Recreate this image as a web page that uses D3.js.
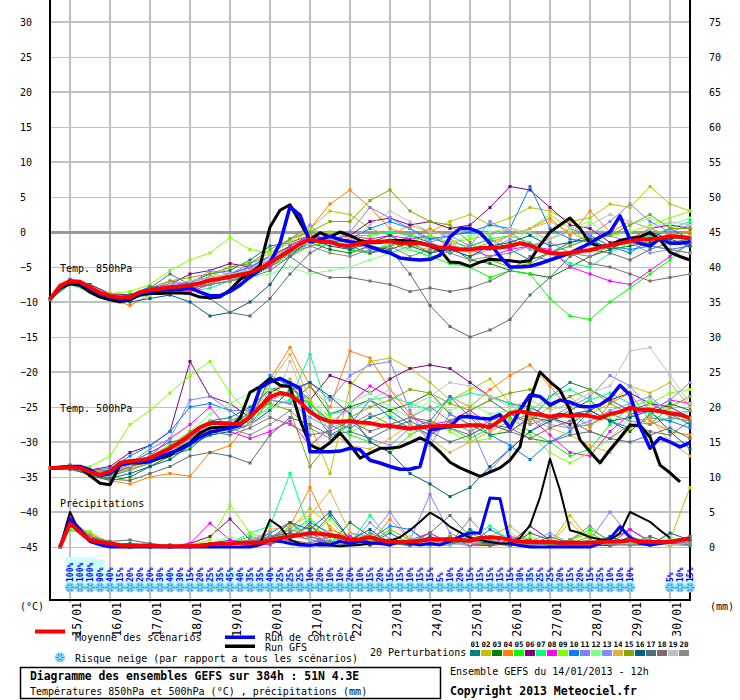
<!DOCTYPE html>
<html lang="fr">
<head>
<meta charset="utf-8">
<title>Diagramme des ensembles GEFS</title>
<script src="https://cdn.jsdelivr.net/npm/d3@7"></script>
<style>
  body { margin: 0; background: #fff; }
  text { font-family: "DejaVu Sans Mono", monospace; }
</style>
</head>
<body>
<svg id="chart" width="740" height="700"></svg>
<script>
// ---- data (6h steps, step 0 = 14/01 12h, step 64 = 384h) ----
var dates = ["15/01","16/01","17/01","18/01","19/01","20/01","21/01","22/01",
             "23/01","24/01","25/01","26/01","27/01","28/01","29/01","30/01"];
var leftTicks = [-45,-40,-35,-30,-25,-20,-15,-10,-5,0,5,10,15,20,25,30];
var rightTicks = [0,5,10,15,20,25,30,35,40,45,50,55,60,65,70,75];

var t850Mean = [-9.6,-7.7,-7.0,-7.1,-7.9,-8.7,-9.1,-9.4,-9.3,-8.6,
  -8.3,-8.1,-7.9,-7.8,-7.6,-7.3,-6.9,-6.7,-6.4,-6.1,
  -5.8,-5.2,-4.4,-3.5,-2.6,-1.7,-1.0,-1.4,-1.4,-1.9,
  -2.0,-1.6,-1.4,-1.4,-1.3,-1.6,-1.6,-1.6,-1.9,-2.3,
  -2.3,-2.5,-2.5,-2.3,-2.3,-2.2,-2.0,-1.6,-1.9,-2.6,
  -3.0,-3.1,-3.0,-2.7,-2.6,-2.2,-1.9,-1.6,-1.3,-1.1,
  -1.0,-0.9,-0.6,-0.7,-0.9];
var t850Ctrl = [-9.6,-7.8,-7.1,-7.3,-8.1,-8.9,-9.3,-9.6,-9.5,-8.8,
  -8.5,-8.3,-8.2,-8.2,-8.0,-8.6,-9.1,-9.1,-8.5,-7.6,
  -6.4,-5.4,-4.4,-1.6,3.6,2.4,-1.4,-1.1,-0.6,-1.1,
  -1.4,-1.6,-2.1,-2.6,-3.0,-3.7,-3.9,-4.0,-3.9,-3.3,
  -0.7,0.5,0.5,-0.1,-1.6,-3.5,-5.0,-5.0,-4.9,-4.5,
  -4.0,-3.5,-3.0,-2.3,-1.6,-0.7,0.0,2.3,-1.1,-1.6,
  -2.0,-0.9,-1.6,-1.6,-1.4];
var t850Gfs = [-9.6,-8.0,-7.4,-7.6,-8.6,-9.3,-9.7,-10.0,-9.7,-9.0,
  -8.8,-8.8,-8.7,-8.7,-8.8,-9.3,-9.4,-9.3,-8.3,-6.8,
  -5.9,-4.8,0.7,3.1,3.9,1.4,-1.1,-0.1,-0.7,0.0,
  -0.5,-1.2,-1.5,-1.5,-1.2,-1.2,-1.3,-1.5,-2.0,-2.6,
  -4.3,-4.4,-4.9,-4.3,-3.9,-4.0,-4.1,-4.3,-4.1,-1.9,
  0.0,1.0,2.0,0.5,-1.6,-2.1,-1.9,-1.2,-0.9,-0.7,
  -0.1,-1.1,-2.9,-3.5,-4.0];

var t500Mean = [-33.7,-33.7,-33.6,-33.7,-34.3,-34.7,-34.2,-33.0,-32.7,-32.6,
  -32.3,-31.6,-30.9,-30.0,-29.0,-27.9,-27.3,-27.3,-27.4,-27.4,
  -26.4,-25.0,-23.6,-23.0,-23.3,-24.3,-25.7,-26.6,-27.1,-27.1,
  -27.0,-27.2,-27.3,-27.6,-27.7,-27.9,-28.1,-27.9,-27.8,-27.7,
  -27.7,-27.7,-27.6,-27.6,-27.9,-26.9,-25.9,-25.6,-25.9,-26.1,
  -26.4,-26.1,-26.3,-26.1,-26.3,-26.6,-26.0,-25.7,-25.1,-25.4,
  -25.4,-25.6,-25.9,-26.1,-26.6];
var t500Ctrl = [-33.7,-33.6,-33.5,-33.5,-34.0,-34.8,-34.5,-33.3,-32.9,-32.9,
  -32.8,-32.1,-31.6,-31.1,-30.2,-29.3,-28.6,-28.3,-28.0,-27.6,
  -26.4,-22.3,-21.4,-20.9,-21.6,-22.3,-31.4,-31.4,-31.4,-31.3,
  -30.9,-31.1,-32.6,-33.0,-33.5,-33.9,-33.9,-33.5,-28.3,-28.0,
  -27.8,-26.4,-26.4,-26.6,-26.7,-26.1,-28.0,-25.4,-23.3,-23.5,
  -24.7,-24.0,-24.3,-24.9,-25.0,-24.7,-23.7,-21.9,-23.3,-27.8,
  -30.9,-29.4,-30.0,-30.7,-30.1];
var t500Gfs = [-33.7,-33.7,-33.5,-33.7,-34.8,-35.9,-36.1,-33.3,-33.0,-33.0,
  -32.8,-32.3,-31.9,-30.9,-30.1,-28.7,-28.0,-27.9,-27.9,-26.6,
  -22.9,-22.1,-20.9,-21.9,-22.1,-26.9,-30.4,-31.1,-30.1,-28.7,
  -30.4,-32.3,-31.6,-30.9,-30.9,-30.7,-30.1,-29.4,-30.1,-31.4,
  -32.9,-33.7,-34.3,-34.9,-34.3,-33.7,-32.6,-30.7,-24.0,-20.0,
  -21.4,-22.6,-25.4,-29.7,-31.4,-33.0,-31.1,-29.4,-27.6,-27.6,
  -29.3,-33.3,-34.4,-35.7,null];

var rainMean = [null,0.0,3.4,2.1,1.0,0.7,0.5,0.3,0.2,0.2,
  0.2,0.1,0.1,0.1,0.1,0.2,0.4,0.5,0.5,0.6,
  0.6,0.6,1.0,1.3,1.5,1.7,2.0,1.9,1.7,1.5,
  1.0,1.1,1.4,1.0,0.8,0.7,0.8,0.9,1.1,1.1,
  1.1,1.0,0.9,1.3,1.4,1.3,1.0,0.8,0.7,0.7,
  0.7,0.6,0.6,0.6,0.6,0.7,0.8,0.8,1.0,0.8,
  0.7,0.7,0.7,1.0,1.1];
var rainCtrl = [null,0,4.0,2.5,0.8,0.3,0,0,0,0,
  0,0,0,0,0,0,0,0,0,0,
  0,0.3,1.0,0.8,0.5,0.3,0.2,0.5,0.3,0.8,
  0.5,0.8,0.6,0.5,0.3,0.8,0.5,0.3,0.5,0.3,
  0.8,1.5,2.0,2.0,7.0,6.9,0.5,0.2,0,0,
  0,0,0,0,0,0.5,1.2,2.9,1.4,0.5,
  0.3,0.5,0.8,1.0,1.2];
var rainGfs = [null,0,5.0,2.0,0.7,0.3,0.1,0,0,0,
  0,0,0,0,0,0,0,0,0,0,
  0,0.5,3.9,2.9,1.0,0.5,0.3,0.2,0.2,0.1,
  0.2,0.3,0.5,0.7,0.9,1.4,2.4,3.6,4.9,4.1,
  2.9,2.1,1.3,1.0,0.7,0.5,0.5,1.3,3.1,7.1,
  12.6,8.1,2.4,2.0,1.4,1.1,1.0,2.0,5.0,4.3,
  3.6,2.4,1.3,null,null];

// snow risk (% of members), per 6h step
var snowPct = [null,null,100,100,100,90,40,15,20,20,
  20,30,40,30,15,20,25,35,45,40,
  35,35,40,25,25,25,10,20,10,10,
  20,10,15,20,15,15,10,15,15,5,
  10,20,15,15,15,15,15,30,35,25,
  25,20,15,20,15,25,10,10,10,null,
  null,null,5,10,15];

// 20 perturbations, 12h steps (0,2,4,...,64)
var t850Pert = [
  [-9.6,-7.2,-7.8,-9.3,-9.8,-8.0,-7.5,-7.2,-6.0,-5.5,-4.0,-2.0,-1.5,-0.5,-1.0,-2.5,-3.0,-2.0,-0.5,-1.5,-3.0,-2.0,-1.0,-2.5,-4.0,-3.0,-1.5,-0.5,-2.0,-3.0,-1.0,0.5,-1.0],
  [-9.6,-6.8,-7.5,-9.0,-9.0,-8.5,-8.0,-7.0,-6.5,-5.0,-4.5,-3.0,-1.0,0.5,3.0,2.5,0.5,-0.5,1.0,0.0,1.5,2.5,1.0,2.0,3.5,3.0,1.5,2.0,4.0,3.5,6.5,4.0,3.0],
  [-9.6,-7.3,-8.2,-9.5,-9.0,-8.0,-8.5,-8.0,-7.5,-7.0,-6.0,-5.0,-3.0,-1.5,-2.5,-3.0,-2.0,-2.5,-1.5,-3.0,-2.0,-4.0,-4.5,-5.5,-6.0,-6.5,-5.0,-3.5,-2.5,-2.0,-1.5,-1.0,-0.5],
  [-9.6,-7.0,-8.0,-9.5,-10.5,-9.0,-8.0,-8.5,-7.0,-6.5,-5.5,-4.0,-2.0,0.5,4.0,6.0,3.5,0.5,-0.5,0.5,-1.0,-2.5,-1.5,-0.5,0.5,2.0,-0.5,3.0,0.0,1.5,0.5,-0.5,0.0],
  [-9.6,-7.5,-8.5,-9.0,-9.5,-8.5,-8.0,-7.5,-7.0,-6.0,-6.5,-5.0,-3.5,-2.0,-1.5,-2.5,-3.0,-1.5,-2.5,-3.5,-4.5,-5.0,-6.5,-5.5,-6.0,-9.5,-12.0,-12.5,-10.0,-8.0,-6.0,-4.0,-1.5],
  [-9.6,-6.8,-7.5,-8.8,-9.0,-8.0,-7.5,-6.0,-5.5,-4.5,-5.0,-3.5,-2.0,-0.5,-1.0,-0.5,1.5,2.0,1.0,1.5,0.5,1.0,3.5,6.5,6.0,3.5,1.0,0.5,-1.5,-1.0,0.5,1.0,0.5],
  [-9.6,-7.2,-7.8,-9.0,-9.5,-9.0,-8.5,-8.5,-8.0,-7.0,-5.5,-4.5,-2.0,-0.5,0.0,-0.5,-0.5,0.0,-0.5,-1.0,-1.5,-2.0,-1.0,-0.5,-1.5,-3.0,-4.5,-5.0,-3.0,-1.5,-0.5,0.5,1.5],
  [-9.6,-7.0,-7.7,-9.4,-9.5,-8.0,-7.5,-8.5,-7.5,-6.0,-5.0,-5.0,-2.0,-0.5,-1.0,-0.5,-1.0,-0.5,-1.0,-0.5,-2.0,-2.5,-3.5,-2.5,-2.0,-2.5,-5.0,-6.0,-7.0,-7.5,-5.5,-3.5,-1.5],
  [-9.6,-7.3,-8.1,-8.8,-8.5,-7.5,-5.5,-4.0,-3.0,-0.8,-2.5,-3.0,-1.5,0.5,-1.0,-2.0,-0.5,-2.0,-1.5,-0.5,-1.5,-1.0,-0.5,-2.0,0.5,2.5,0.5,-1.5,-0.5,0.0,1.0,2.0,3.0],
  [-9.6,-7.1,-7.9,-9.2,-9.0,-7.8,-8.0,-7.0,-6.5,-6.0,-5.0,-3.5,-2.5,-0.5,-1.5,-1.0,0.5,1.5,0.5,-1.0,-0.5,0.0,1.0,0.5,6.5,0.5,-1.0,-1.5,-2.0,-2.5,-2.0,-2.5,-2.0],
  [-9.6,-6.9,-8.0,-9.0,-9.5,-8.5,-7.0,-7.5,-5.5,-6.0,-4.5,-3.5,-1.0,1.0,-1.5,0.0,3.5,2.0,0.5,-1.5,-0.5,-2.0,1.5,0.0,-2.0,-1.0,0.5,-0.5,1.5,4.0,1.5,0.0,1.0],
  [-9.6,-7.4,-8.3,-9.6,-9.0,-9.0,-8.0,-7.5,-7.5,-7.0,-6.5,-6.0,-5.0,-6.0,-5.5,-5.0,-4.0,-3.0,-2.5,-3.0,-1.5,-0.5,0.0,0.5,-0.5,-1.0,0.5,1.5,-0.5,1.0,2.0,1.0,2.0],
  [-9.6,-7.0,-7.8,-9.0,-9.2,-8.2,-7.8,-7.2,-6.5,-6.8,-5.0,-4.0,-3.5,-1.5,-1.0,-1.5,-2.5,-3.0,-2.0,-1.5,-2.5,-3.5,-2.5,-1.0,-2.5,-3.0,-2.0,-1.0,-0.5,-1.5,-3.0,-2.5,-3.0],
  [-9.6,-7.1,-7.9,-9.0,-9.3,-8.6,-7.8,-7.8,-6.5,-6.2,-5.5,-4.5,-2.5,-0.5,0.0,-1.0,-2.0,-1.0,-2.0,-2.5,-1.5,-3.0,-2.0,-0.5,0.5,1.5,0.0,-1.5,-2.5,-1.0,0.5,-0.5,-0.5],
  [-9.6,-6.9,-7.7,-9.2,-9.5,-8.0,-7.0,-6.5,-6.0,-5.0,-4.5,-2.5,-1.0,0.0,1.5,1.5,4.5,6.0,3.0,1.5,1.0,-1.5,-4.0,-5.0,-4.5,-3.0,-2.0,-1.0,-0.5,1.0,2.5,0.5,0.5],
  [-9.6,-7.4,-8.0,-9.2,-10.0,-9.5,-9.0,-10.0,-12.0,-11.5,-10.0,-7.5,-3.5,-1.0,-2.0,-2.5,-1.5,-0.5,-2.0,-3.0,-2.5,-3.5,-2.0,-1.5,-0.5,-2.0,-1.5,-1.0,-2.5,-1.0,0.0,-1.0,-2.0],
  [-9.6,-7.2,-8.0,-9.5,-9.0,-8.0,-6.0,-7.5,-9.5,-11.5,-12.0,-9.5,-6.0,-3.0,-1.5,-2.0,-3.0,-2.5,-6.0,-10.5,-13.5,-15.0,-14.0,-12.5,-9.0,-6.5,-3.5,-2.5,-3.0,-4.0,-2.5,-1.5,-1.0],
  [-9.6,-7.3,-8.3,-9.3,-9.2,-8.5,-8.5,-8.0,-7.5,-7.0,-6.5,-5.5,-3.5,-5.5,-6.5,-6.5,-7.0,-7.5,-8.5,-8.0,-8.5,-8.0,-7.0,-5.5,-3.5,-4.0,-3.0,-4.5,-5.0,-6.0,-7.0,-6.5,-6.0],
  [-9.6,-7.0,-7.9,-9.0,-9.3,-8.3,-7.5,-7.0,-6.5,-6.0,-5.5,-3.5,-2.5,-1.5,-1.0,-1.5,1.0,3.0,1.5,0.0,-0.5,0.5,-0.5,0.5,0.0,-1.0,0.0,1.0,2.5,1.5,0.5,1.5,1.0],
  [-9.6,-7.1,-8.0,-9.2,-9.6,-8.6,-8.2,-7.6,-7.5,-7.0,-6.0,-4.5,-3.0,-2.0,-3.0,-3.5,-2.5,-2.0,-3.5,-2.5,-3.0,-4.0,-3.5,-3.0,-2.0,-1.5,-3.0,-3.5,-2.0,-1.5,-2.0,-2.5,-3.0]
];
var t500Pert = [
  [-33.7,-33.5,-34.5,-34.0,-33.0,-31.5,-30.0,-29.5,-27.0,-26.5,-25.0,-22.5,-22.0,-24.5,-27.0,-28.0,-26.5,-25.5,-27.5,-29.0,-27.0,-25.5,-24.0,-26.0,-27.0,-23.5,-21.5,-22.5,-24.0,-25.5,-24.5,-26.0,-27.5],
  [-33.7,-33.8,-34.0,-34.5,-33.5,-32.5,-31.0,-29.0,-28.5,-27.0,-25.5,-23.0,-21.0,-27.5,-34.5,-22.0,-18.5,-18.0,-19.5,-21.5,-24.0,-22.5,-21.0,-24.5,-27.0,-25.0,-23.5,-26.0,-24.5,-22.0,-23.0,-21.5,-25.0],
  [-33.7,-33.6,-34.8,-35.5,-35.0,-33.5,-32.0,-31.0,-28.5,-28.0,-27.5,-24.0,-24.5,-22.0,-26.0,-25.0,-24.0,-25.5,-24.5,-23.0,-26.0,-27.5,-29.0,-28.5,-26.5,-27.0,-25.5,-24.0,-27.0,-28.5,-26.0,-24.5,-25.5],
  [-33.7,-33.4,-34.2,-35.5,-36.0,-35.0,-34.5,-34.9,-31.5,-30.5,-27.0,-21.0,-16.5,-22.0,-25.0,-17.0,-18.0,-22.5,-26.0,-28.0,-23.5,-25.0,-22.5,-20.5,-19.0,-22.0,-25.5,-28.0,-24.5,-23.0,-27.0,-28.5,-29.0],
  [-33.7,-33.7,-34.4,-35.0,-34.0,-33.0,-31.5,-30.0,-29.0,-28.5,-25.5,-22.5,-23.0,-24.5,-27.5,-29.0,-30.0,-31.5,-29.0,-27.5,-28.0,-29.5,-28.0,-26.5,-28.5,-30.0,-32.0,-31.0,-27.5,-25.0,-24.0,-26.5,-27.0],
  [-33.7,-33.3,-34.0,-33.5,-31.5,-30.5,-28.5,-18.5,-23.5,-24.5,-26.5,-23.0,-21.5,-24.0,-20.5,-21.5,-23.0,-21.0,-19.5,-19.0,-19.5,-21.5,-23.5,-24.5,-25.0,-26.5,-27.5,-25.5,-24.0,-23.0,-24.5,-25.0,-26.5],
  [-33.7,-33.8,-34.5,-34.8,-33.5,-32.5,-31.5,-29.5,-28.0,-27.5,-27.0,-25.0,-24.0,-17.5,-26.0,-25.5,-24.0,-23.5,-24.5,-25.5,-24.0,-23.0,-23.5,-24.5,-25.5,-23.5,-22.5,-24.0,-23.0,-24.5,-26.0,-27.0,-25.5],
  [-33.7,-33.5,-34.3,-34.5,-33.5,-32.0,-29.5,-27.5,-25.0,-28.5,-29.5,-28.5,-27.0,-30.5,-28.0,-24.5,-22.0,-23.5,-26.5,-27.5,-27.0,-25.5,-27.5,-28.5,-26.5,-29.0,-31.5,-32.0,-28.5,-26.0,-25.5,-24.0,-24.5],
  [-33.7,-33.4,-33.5,-32.0,-27.5,-25.5,-23.0,-20.5,-18.5,-23.0,-26.0,-25.5,-22.5,-24.0,-26.5,-28.5,-27.5,-26.0,-29.0,-27.0,-28.5,-30.0,-29.5,-27.5,-29.0,-31.5,-33.0,-31.5,-29.5,-26.5,-24.5,-23.0,-22.5],
  [-33.7,-33.6,-34.0,-33.8,-32.0,-30.5,-28.5,-25.0,-24.5,-25.5,-27.5,-20.5,-22.0,-25.0,-29.0,-27.5,-24.0,-26.5,-28.0,-27.0,-23.5,-26.5,-29.0,-30.5,-32.5,-30.0,-28.5,-25.5,-27.0,-28.0,-26.5,-27.0,-28.0],
  [-33.7,-33.5,-34.2,-34.0,-33.0,-31.0,-29.5,-24.0,-23.5,-25.5,-25.5,-24.0,-23.0,-21.5,-24.0,-20.5,-19.0,-18.5,-25.5,-30.5,-26.0,-27.5,-34.0,-31.0,-28.5,-26.5,-25.0,-23.5,-20.5,-22.0,-25.5,-24.0,-21.5],
  [-33.7,-33.8,-34.6,-35.0,-34.0,-33.0,-32.0,-28.5,-26.0,-24.5,-23.0,-22.5,-24.5,-26.0,-23.5,-24.5,-23.0,-25.0,-26.5,-24.0,-25.5,-24.5,-26.0,-25.5,-25.0,-24.5,-26.0,-27.5,-26.5,-25.0,-24.0,-25.5,-26.5],
  [-33.7,-33.6,-34.1,-34.4,-33.2,-32.5,-31.0,-29.5,-27.5,-27.0,-26.0,-24.0,-24.5,-26.5,-28.0,-27.0,-29.5,-30.5,-28.0,-29.0,-27.5,-26.0,-28.5,-27.0,-26.0,-27.5,-28.0,-27.0,-25.5,-24.5,-23.5,-26.0,-25.5],
  [-33.7,-33.7,-34.3,-34.7,-33.8,-32.8,-31.0,-30.0,-28.0,-27.5,-27.0,-21.5,-17.5,-24.0,-28.5,-30.5,-31.0,-29.5,-27.5,-29.5,-31.5,-30.0,-28.5,-27.0,-26.5,-28.0,-29.0,-30.5,-31.5,-28.0,-26.5,-30.0,-32.0],
  [-33.7,-33.5,-34.1,-34.2,-33.3,-32.0,-30.5,-28.5,-27.0,-27.5,-26.0,-24.5,-25.5,-33.5,-30.0,-26.5,-25.0,-24.0,-22.5,-23.0,-24.5,-25.5,-24.0,-23.0,-22.5,-25.0,-23.5,-22.5,-24.5,-26.0,-27.5,-25.0,-23.5],
  [-33.7,-33.9,-34.6,-35.2,-34.5,-33.5,-32.5,-30.5,-29.0,-28.5,-27.5,-25.5,-22.5,-21.5,-23.5,-26.0,-30.0,-31.5,-34.5,-36.0,-37.8,-36.5,-33.5,-31.0,-28.5,-27.0,-26.0,-25.5,-27.0,-26.5,-25.5,-28.5,-31.0],
  [-33.7,-33.8,-34.7,-35.3,-35.5,-34.5,-33.5,-32.0,-31.5,-32.0,-33.0,-29.0,-26.5,-27.5,-29.0,-28.5,-29.5,-28.0,-27.0,-28.5,-30.0,-29.0,-27.5,-28.0,-29.5,-30.0,-29.0,-28.5,-29.5,-30.0,-29.0,-28.0,-29.5],
  [-33.7,-33.7,-34.4,-34.6,-33.6,-32.6,-31.0,-29.5,-28.5,-29.0,-28.0,-26.5,-27.5,-29.0,-28.5,-27.0,-28.5,-27.5,-26.5,-27.0,-28.0,-29.0,-27.5,-28.5,-29.5,-28.0,-27.0,-28.5,-29.5,-27.5,-28.5,-29.0,-27.0],
  [-33.7,-33.6,-34.2,-34.4,-33.4,-32.4,-31.2,-29.0,-27.0,-28.0,-27.5,-26.0,-18.5,-25.5,-27.0,-25.5,-24.0,-22.5,-25.0,-23.5,-21.5,-22.0,-23.5,-25.0,-24.0,-25.5,-24.5,-23.0,-22.0,-17.0,-16.5,-20.5,-24.5],
  [-33.7,-33.7,-34.3,-34.8,-34.0,-33.0,-31.5,-29.5,-28.5,-28.0,-29.0,-27.5,-25.5,-28.0,-29.5,-27.5,-26.0,-27.5,-26.5,-25.0,-27.0,-28.5,-27.0,-26.0,-27.5,-26.5,-28.0,-27.5,-26.0,-27.0,-27.5,-26.5,-27.0]
];
// precipitation perturbations: step 1, then steps 2,4,...,64
var rainPert = [
  [0,3.5,1.5,0.3,0.5,0.2,0,0.3,0.5,1.0,0.3,2.0,3.5,1.5,4.5,1.0,0.5,2.0,0.5,1.0,0.3,2.5,1.0,0.5,0.3,1.5,0.5,0.2,1.0,2.5,0.8,0.5,1.5],
  [0,4.0,1.2,0.2,0,0,0.2,0.5,0,0.3,0.5,1.0,2.5,5.5,3.0,0.5,1.5,0.3,0.8,2.0,0.5,0.2,1.5,3.0,0.8,0.5,4.5,1.0,0.5,0.3,0.5,1.0,8.5],
  [0,3.0,1.0,0.5,0.2,0,0,0,0.3,0.5,0.2,1.5,2.0,1.0,0.5,3.5,1.5,0.5,0.2,1.0,0.5,0.3,0.5,0.2,2.0,1.0,0.3,0.5,0.2,1.5,0.5,0.3,0.5],
  [0,3.5,2.0,0.3,0,0.2,0,0,0.5,0.3,1.0,0.5,3.0,8.5,2.5,1.5,0.5,4.0,1.0,0.5,1.5,0.5,0.3,1.0,0.5,0.3,1.0,2.0,0.5,0.2,0.3,0.5,1.0],
  [0,2.5,1.5,0.5,0.3,0,0,0.2,0.2,0.5,1.5,1.0,2.0,4.0,1.5,0.5,0.3,1.0,0.5,0.3,0.8,1.5,0.5,0.3,0.2,0.5,1.0,2.5,1.0,0.5,0.3,0.5,0.5],
  [0,3.8,1.3,0.2,0,0,0,0.5,1.5,4.0,1.0,0.5,1.5,3.0,0.8,0.5,0.3,0.5,2.5,0.5,1.0,0.3,0.2,0.5,3.0,1.0,0.5,0.3,0.2,0.5,1.0,0.5,0.3],
  [0,3.2,1.0,0.3,0,0,0.2,0,0.3,0.5,2.0,3.0,10.5,2.0,1.0,0.5,4.5,1.0,0.5,0.3,0.2,1.5,3.0,1.0,0.5,0.3,0.5,1.0,0.3,0.2,0.5,0.3,0.2],
  [0,4.2,1.5,0.3,0,0,0,0.5,3.4,1.0,0.5,0.3,1.5,2.0,0.5,1.5,0.5,0.3,1.0,2.0,0.5,0.3,0.5,1.5,1.0,0.5,0.3,0.2,0.5,2.5,0.8,1.0,0.5],
  [0,3.0,2.2,0.5,0,0,0,0.3,1.0,6.0,2.0,1.0,3.0,1.5,4.0,0.5,2.0,0.5,0.3,1.0,0.5,2.0,0.8,0.5,1.5,0.3,1.0,2.0,0.5,0.3,1.5,0.5,1.0],
  [0,3.6,1.0,0.2,0.3,0,0,0,0.2,0.5,0.3,1.5,1.0,3.5,2.0,0.5,1.0,3.0,2.5,0.5,1.0,0.5,2.5,1.0,0.5,0.3,0.2,0.5,1.0,0.3,0.5,0.8,1.5],
  [0,3.4,1.4,0.3,0,0,0.2,0,0.5,0.3,1.0,2.0,3.5,1.0,0.5,2.0,1.5,5.0,1.0,7.5,2.0,0.5,1.0,0.5,0.3,0.5,0.2,1.0,5.0,1.5,0.5,0.8,0.5],
  [0,2.8,1.6,0.5,0,0,0,0.2,0.5,1.5,0.5,1.0,2.5,2.0,1.0,0.5,0.8,0.5,1.5,0.5,0.3,1.0,0.5,2.0,0.5,0.3,0.8,0.5,1.5,0.5,0.3,1.5,0.5],
  [0,3.9,1.2,0.2,0,0,0,0,0.3,0.5,1.0,1.5,2.0,1.5,0.5,0.3,3.5,1.0,0.5,0.8,0.5,0.3,1.0,0.5,0.8,2.0,0.5,0.3,0.5,0.8,1.0,0.5,0.3],
  [0,3.3,1.8,0.4,0.2,0,0,0.2,0.3,0.5,0.8,2.5,3.0,4.5,8.0,2.0,1.0,0.5,0.3,0.5,1.0,2.0,0.5,0.3,1.0,0.5,3.5,0.8,0.5,0.3,0.5,0.3,0.5],
  [0,3.1,1.1,0.3,0,0,0,0.2,0.2,0.3,0.5,1.0,1.5,3.0,1.5,1.0,0.5,2.5,1.0,0.5,1.5,0.5,0.3,1.0,0.5,0.3,0.5,1.5,0.5,1.0,0.5,0.3,0.5],
  [0,3.7,1.4,0.3,0,0,0.3,0,0.5,0.5,0.3,1.0,3.5,2.5,5.0,1.0,2.5,0.5,0.3,1.5,0.5,1.0,0.5,0.3,0.5,1.0,0.5,0.3,1.5,0.5,0.3,2.0,1.0],
  [0,3.0,1.5,0.8,1.0,0.5,0.2,0,0.3,0.5,0.5,1.5,2.0,1.5,0.5,0.3,0.5,1.0,0.5,2.0,4.5,1.5,0.5,0.3,1.0,0.5,0.3,0.5,1.0,0.5,1.5,0.5,0.3],
  [0,3.5,1.3,0.3,0,0,0,0.3,0.2,0.5,0.3,0.5,1.0,0.5,1.5,0.8,0.5,0.3,0.5,0.3,0.5,1.0,0.3,0.5,0.3,0.5,1.0,0.5,0.3,0.5,0.3,0.5,1.5],
  [0,3.6,1.2,0.2,0,0,0,0,0.2,0.3,0.5,1.0,1.5,1.0,2.0,0.5,1.5,0.5,1.0,0.5,0.3,0.5,1.0,0.5,0.3,1.0,0.5,0.3,0.5,0.5,0.8,0.3,0.5],
  [0,3.8,1.6,0.3,0,0.2,0,0,0.3,0.5,0.8,1.5,2.5,1.5,0.8,0.5,2.0,0.8,0.5,1.0,0.5,4.0,1.0,0.5,0.3,0.5,1.0,3.0,0.5,0.3,0.5,1.0,0.5]
];
var memberColors = ["#008080","#c0c000","#008000","#ff8000","#00ff00","#800080","#00ff80",
  "#ff00ff","#80ff00","#0080ff","#8080ff","#80ff80","#8888ff","#e0b040","#80a800",
  "#006080","#507078","#806870","#c0c0c0","#888888"];
var memberLabels = ["01","02","03","04","05","06","07","08","09","10",
  "11","12","13","14","15","16","17","18","19","20"];

// ---- scales ----
var x = d3.scaleLinear().domain([0, 64]).range([50, 690]);
var y = d3.scaleLinear().domain([-45, 30]).range([547, 22]);
var yMm = d3.scaleLinear().domain([0, 75]).range([547, 22]);
var pertSteps = d3.range(0, 65, 2);
var rainSteps = [1].concat(d3.range(2, 65, 2));
var dateSteps = dates.map(function(d, i) { return 2 + 4 * i; });

var svg = d3.select("#chart");
svg.append("rect").attr("width", 740).attr("height", 700).attr("fill", "#fff");

// grid
var grid = svg.append("g").attr("shape-rendering", "crispEdges");
grid.selectAll("line.v").data(dateSteps).enter().append("line")
    .attr("x1", function(d) { return x(d); }).attr("x2", function(d) { return x(d); })
    .attr("y1", 0).attr("y2", 603)
    .attr("stroke", "#c0c0c0").attr("stroke-width", 2);
grid.selectAll("line.h").data(leftTicks).enter().append("line")
    .attr("x1", 50).attr("x2", 690)
    .attr("y1", function(d) { return y(d); }).attr("y2", function(d) { return y(d); })
    .attr("stroke", function(d) { return d === 0 ? "#999" : "#c0c0c0"; })
    .attr("stroke-width", function(d) { return d === 0 ? 3 : (d % 10 === 0 ? 2 : 1); });

// frame
var frame = svg.append("g").attr("stroke", "#000").attr("stroke-width", 2).attr("shape-rendering", "crispEdges");
frame.append("line").attr("x1", 50).attr("x2", 50).attr("y1", 0).attr("y2", 601);
frame.append("line").attr("x1", 690).attr("x2", 690).attr("y1", 0).attr("y2", 601);
frame.append("line").attr("x1", 49).attr("x2", 691).attr("y1", 600).attr("y2", 600);

// axes
var axL = svg.append("g").attr("transform", "translate(50,0)")
    .call(d3.axisLeft(y).tickValues(leftTicks).tickSize(0));
var axR = svg.append("g").attr("transform", "translate(690,0)")
    .call(d3.axisRight(yMm).tickValues(rightTicks).tickSize(0));
[axL, axR].forEach(function(a) {
  a.select(".domain").remove();
  a.attr("font-family", "DejaVu Sans Mono").attr("font-size", 10);
  a.selectAll("text").attr("text-anchor", "start").attr("fill", "#000");
});
axL.selectAll("text").attr("x", -30);
axR.selectAll("text").attr("x", 19);

var axB = svg.append("g").attr("transform", "translate(0,600)")
    .call(d3.axisBottom(x).tickValues(dateSteps).tickSize(0)
      .tickFormat(function(d, i) { return dates[i]; }));
axB.select(".domain").remove();
axB.attr("font-family", "DejaVu Sans Mono").attr("font-size", 11.5);
axB.selectAll("text").attr("fill", "#000").attr("y", 0).attr("dy", 0).attr("x", 0)
    .attr("text-anchor", "end").attr("transform", "translate(10.5,2) rotate(-90)");

svg.append("text").attr("x", 20).attr("y", 610).attr("font-size", 10).text("(°C)");
svg.append("text").attr("x", 710).attr("y", 610).attr("font-size", 10).text("(mm)");

// section labels
svg.append("text").attr("x", 60).attr("y", 272).attr("font-size", 10).text("Temp. 850hPa");
svg.append("text").attr("x", 60).attr("y", 412).attr("font-size", 10).text("Temp. 500hPa");
svg.append("text").attr("x", 60).attr("y", 507).attr("font-size", 10).text("Précipitations");

// snow risk
var snow = snowPct.map(function(v, i) { return {s: i, v: v}; })
    .filter(function(d) { return d.v != null; });
svg.append("g").selectAll("rect").data(snow).enter().append("rect")
    .attr("x", function(d) { return x(d.s) - 5; }).attr("width", 10)
    .attr("y", function(d) { return 582 - d.v * 0.25; })
    .attr("height", function(d) { return 8 + d.v * 0.25; })
    .attr("fill", "#ccffff");
svg.append("g").selectAll("text").data(snow).enter().append("text")
    .attr("transform", function(d) { return "translate(" + (x(d.s) + 2.5) + ",582) rotate(-90)"; })
    .attr("font-size", 8).attr("font-weight", "bold").attr("fill", "#0000ff")
    .text(function(d) { return d.v + "%"; });

function flake(g, cx, cy, r) {
  var f = g.append("g").attr("transform", "translate(" + cx + "," + cy + ")");
  f.append("circle").attr("r", r).attr("fill", "#80d4f4");
  [0, 60, 120].forEach(function(a) {
    f.append("line").attr("x1", -r + 0.5).attr("x2", r - 0.5).attr("y1", 0).attr("y2", 0)
        .attr("transform", "rotate(" + a + ")")
        .attr("stroke", "#3a9ee0").attr("stroke-width", 1);
  });
  f.append("circle").attr("r", 1).attr("fill", "#fff");
}
var flakes = svg.append("g");
snow.forEach(function(d) { flake(flakes, x(d.s), 587.5, 5); });

// series
var plot = svg.append("g");
function drawSeries(values, steps, ys, color, w, marks) {
  var pts = values.map(function(v, i) { return {s: steps ? steps[i] : i, v: v}; })
      .filter(function(d) { return d.v != null; });
  var line = d3.line().x(function(d) { return x(d.s); }).y(function(d) { return ys(d.v); });
  plot.append("path").attr("d", line(pts)).attr("fill", "none")
      .attr("stroke", color).attr("stroke-width", w).attr("stroke-linejoin", "round");
  if (marks) {
    plot.append("g").selectAll("rect").data(pts).enter().append("rect")
        .attr("x", function(d) { return x(d.s) - 1.5; })
        .attr("y", function(d) { return ys(d.v) - 1.5; })
        .attr("width", 3).attr("height", 3).attr("fill", color);
  }
}

memberColors.forEach(function(c, m) {
  drawSeries(rainPert[m], rainSteps, yMm, c, 1, true);
  drawSeries(t500Pert[m], pertSteps, y, c, 1, true);
  drawSeries(t850Pert[m], pertSteps, y, c, 1, true);
});
drawSeries(rainGfs, null, yMm, "#000", 2);
drawSeries(t500Gfs, null, y, "#000", 3);
drawSeries(t850Gfs, null, y, "#000", 3);
drawSeries(rainCtrl, null, yMm, "#0000ff", 3);
drawSeries(t500Ctrl, null, y, "#0000ff", 3.5);
drawSeries(t850Ctrl, null, y, "#0000ff", 3.5);
drawSeries(rainMean, null, yMm, "#ff0000", 4);
drawSeries(t500Mean, null, y, "#ff0000", 4);
drawSeries(t850Mean, null, y, "#ff0000", 4);

// legend
var lg = svg.append("g").attr("font-size", 10);
lg.append("rect").attr("x", 35).attr("y", 629.5).attr("width", 30).attr("height", 4).attr("fill", "#ff0000");
lg.append("text").attr("x", 75).attr("y", 641).text("Moyenne des scénarios");
lg.append("rect").attr("x", 225).attr("y", 635.5).attr("width", 30).attr("height", 3.5).attr("fill", "#0000ff");
lg.append("text").attr("x", 265).attr("y", 641).text("Run de contrôle");
lg.append("rect").attr("x", 225).attr("y", 644.5).attr("width", 30).attr("height", 3.5).attr("fill", "#000");
lg.append("text").attr("x", 265).attr("y", 651).text("Run GFS");
flake(lg, 60, 657.5, 5);
lg.append("text").attr("x", 75).attr("y", 662).text("Risque neige (par rapport a tous les scénarios)");
lg.append("text").attr("x", 370).attr("y", 656).text("20 Perturbations");

lg.selectAll("rect.sw").data(memberColors).enter().append("rect")
    .attr("x", function(d, i) { return 470 + 11 * i; }).attr("y", 650)
    .attr("width", 10).attr("height", 6).attr("fill", function(d) { return d; });
lg.selectAll("text.sw").data(memberLabels).enter().append("text")
    .attr("x", function(d, i) { return 475 + 11 * i; }).attr("y", 647)
    .attr("text-anchor", "middle").attr("font-size", 7.5).attr("font-weight", "bold")
    .text(function(d) { return d; });

lg.append("rect").attr("x", 20.5).attr("y", 667.5).attr("width", 420).attr("height", 31)
    .attr("fill", "none").attr("stroke", "#000").attr("stroke-width", 1.5);
lg.append("text").attr("x", 30).attr("y", 680).attr("font-size", 11.4).attr("font-weight", "bold")
    .text("Diagramme des ensembles GEFS sur 384h : 51N 4.3E");
lg.append("text").attr("x", 30).attr("y", 695)
    .text("Températures 850hPa et 500hPa (°C) , précipitations (mm)");
lg.append("text").attr("x", 450).attr("y", 675).text("Ensemble GEFS du 14/01/2013 - 12h");
lg.append("text").attr("x", 450).attr("y", 695).attr("font-size", 11.5).attr("font-weight", "bold")
    .text("Copyright 2013 Meteociel.fr");
</script>
</body>
</html>
